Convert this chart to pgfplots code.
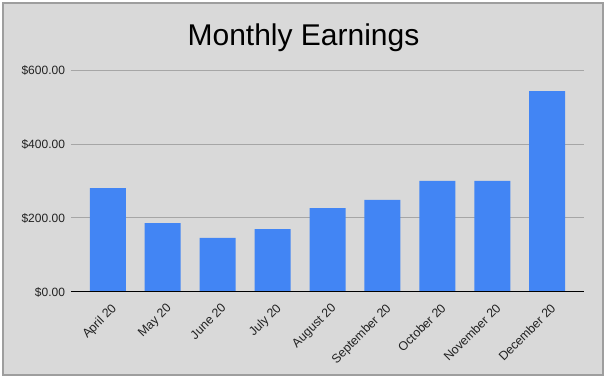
\documentclass[border=0pt]{standalone}
\usepackage{fontspec}
\setmainfont{Liberation Sans}
\usepackage{pgfplots}
\pgfplotsset{compat=1.18}
\definecolor{bg}{HTML}{D9D9D9}
\definecolor{barblue}{HTML}{4285F4}
\definecolor{gridc}{HTML}{A6A6A6}
\definecolor{framec}{HTML}{9E9E9E}
\definecolor{txt}{HTML}{222222}
\begin{document}
\begin{tikzpicture}[x=0.75pt,y=0.75pt]
\fill[white] (0,0) rectangle (607,382);
\filldraw[fill=bg,draw=framec,line width=0.9pt] (3,7) rectangle (603,379);
\node[font=\fontsize{22.5}{26}\selectfont] at (303.5,344) {Monthly Earnings};
\begin{axis}[
  at={(53.25pt,67.5pt)}, anchor=south west, scale only axis,
  width=384.75pt, height=166.5pt,
  ymin=0, ymax=600, xmin=-0.67, xmax=8.67,
  axis line style={draw=none},
  tick style={draw=none},
  ymajorgrids, major grid style={gridc, line width=0.75pt},
  ytick={0,200,400,600},
  yticklabels={\$0.00,\$200.00,\$400.00,\$600.00},
  xtick={0,...,8},
  xticklabels={April 20,May 20,June 20,July 20,August 20,September 20,October 20,November 20,December 20},
  x tick label style={rotate=45, anchor=north east, font=\fontsize{9.3}{11}\selectfont, text=txt, inner sep=1pt, yshift=-3pt},
  y tick label style={font=\fontsize{9}{11}\selectfont, text=txt, xshift=-1pt},
  ybar, bar width=27pt,
  clip=false,
]
\addplot[fill=barblue, draw=none] coordinates {
 (0,281) (1,186) (2,146) (3,170) (4,227) (5,249) (6,300) (7,300) (8,543)};
\draw[black, line width=0.75pt] (axis cs:-0.67,0) -- (axis cs:8.67,0);
\end{axis}
\end{tikzpicture}
\end{document}
